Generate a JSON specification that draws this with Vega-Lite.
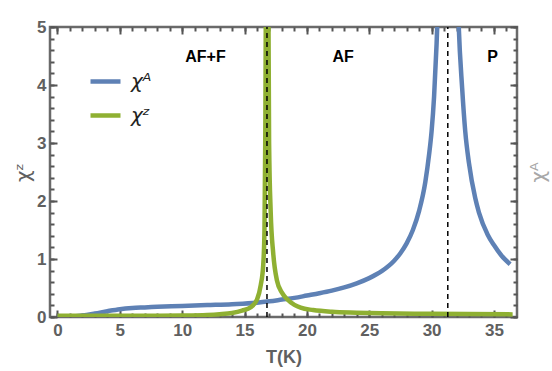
{
  "$schema": "https://vega.github.io/schema/vega-lite/v6.json",
  "width": 467,
  "height": 290,
  "autosize": {"type": "none"},
  "padding": {"left": 50, "top": 27, "right": 35, "bottom": 54},
  "config": {
    "view": {"stroke": "#6a6a6a", "strokeWidth": 2.5},
    "axis": {
      "grid": false,
      "domain": false,
      "tickColor": "#555555",
      "tickWidth": 2,
      "labelFont": "Liberation Sans",
      "labelFontWeight": "bold",
      "labelFontSize": 17,
      "labelColor": "#606060",
      "titleFont": "Liberation Sans",
      "titleColor": "#606060"
    }
  },
  "datasets": {
    "blue": [
      {"series": "χᴬ", "T": 0, "v": 0.005},
      {"series": "χᴬ", "T": 1, "v": 0.008},
      {"series": "χᴬ", "T": 2, "v": 0.025},
      {"series": "χᴬ", "T": 3, "v": 0.06},
      {"series": "χᴬ", "T": 4, "v": 0.1},
      {"series": "χᴬ", "T": 5, "v": 0.135},
      {"series": "χᴬ", "T": 6, "v": 0.155},
      {"series": "χᴬ", "T": 7, "v": 0.165},
      {"series": "χᴬ", "T": 8, "v": 0.175},
      {"series": "χᴬ", "T": 10, "v": 0.19},
      {"series": "χᴬ", "T": 12, "v": 0.205},
      {"series": "χᴬ", "T": 14, "v": 0.22},
      {"series": "χᴬ", "T": 16, "v": 0.245},
      {"series": "χᴬ", "T": 17, "v": 0.27},
      {"series": "χᴬ", "T": 18, "v": 0.3},
      {"series": "χᴬ", "T": 19, "v": 0.33},
      {"series": "χᴬ", "T": 20, "v": 0.37},
      {"series": "χᴬ", "T": 21, "v": 0.41},
      {"series": "χᴬ", "T": 22, "v": 0.455},
      {"series": "χᴬ", "T": 23, "v": 0.51},
      {"series": "χᴬ", "T": 24, "v": 0.58},
      {"series": "χᴬ", "T": 25, "v": 0.67},
      {"series": "χᴬ", "T": 26, "v": 0.79},
      {"series": "χᴬ", "T": 27, "v": 0.97},
      {"series": "χᴬ", "T": 27.5, "v": 1.1},
      {"series": "χᴬ", "T": 28, "v": 1.27},
      {"series": "χᴬ", "T": 28.5, "v": 1.5},
      {"series": "χᴬ", "T": 29, "v": 1.83},
      {"series": "χᴬ", "T": 29.5, "v": 2.33},
      {"series": "χᴬ", "T": 29.8, "v": 2.8},
      {"series": "χᴬ", "T": 30.0, "v": 3.2},
      {"series": "χᴬ", "T": 30.2, "v": 3.8},
      {"series": "χᴬ", "T": 30.4, "v": 4.7},
      {"series": "χᴬ", "T": 30.55, "v": 5.6},
      {"series": "χᴬ", "T": 30.8, "v": 8},
      {"series": "χᴬ", "T": 31.0, "v": 13},
      {"series": "χᴬ", "T": 31.25, "v": 40},
      {"series": "χᴬ", "T": 31.55, "v": 15},
      {"series": "χᴬ", "T": 31.8, "v": 9},
      {"series": "χᴬ", "T": 32.0, "v": 6.3},
      {"series": "χᴬ", "T": 32.18, "v": 5.0},
      {"series": "χᴬ", "T": 32.45, "v": 3.95},
      {"series": "χᴬ", "T": 32.7, "v": 3.2},
      {"series": "χᴬ", "T": 33.0, "v": 2.65},
      {"series": "χᴬ", "T": 33.5, "v": 2.05},
      {"series": "χᴬ", "T": 33.8, "v": 1.8},
      {"series": "χᴬ", "T": 34.5, "v": 1.42},
      {"series": "χᴬ", "T": 35.0, "v": 1.24},
      {"series": "χᴬ", "T": 35.6, "v": 1.06},
      {"series": "χᴬ", "T": 36.3, "v": 0.91}
    ],
    "green": [
      {"series": "χᶻ", "T": 0, "v": 0.02},
      {"series": "χᶻ", "T": 4, "v": 0.02},
      {"series": "χᶻ", "T": 8, "v": 0.022},
      {"series": "χᶻ", "T": 10, "v": 0.025},
      {"series": "χᶻ", "T": 12, "v": 0.035},
      {"series": "χᶻ", "T": 13, "v": 0.048},
      {"series": "χᶻ", "T": 14, "v": 0.07},
      {"series": "χᶻ", "T": 14.8, "v": 0.11},
      {"series": "χᶻ", "T": 15.5, "v": 0.17},
      {"series": "χᶻ", "T": 16.0, "v": 0.3},
      {"series": "χᶻ", "T": 16.3, "v": 0.55},
      {"series": "χᶻ", "T": 16.5, "v": 0.9},
      {"series": "χᶻ", "T": 16.6, "v": 1.5},
      {"series": "χᶻ", "T": 16.66, "v": 3},
      {"series": "χᶻ", "T": 16.72, "v": 6},
      {"series": "χᶻ", "T": 16.8, "v": 60},
      {"series": "χᶻ", "T": 16.9, "v": 6},
      {"series": "χᶻ", "T": 16.97, "v": 3},
      {"series": "χᶻ", "T": 17.1, "v": 1.8},
      {"series": "χᶻ", "T": 17.3, "v": 1.1},
      {"series": "χᶻ", "T": 17.6, "v": 0.63},
      {"series": "χᶻ", "T": 18.0, "v": 0.42},
      {"series": "χᶻ", "T": 18.4, "v": 0.31},
      {"series": "χᶻ", "T": 19.0, "v": 0.21},
      {"series": "χᶻ", "T": 19.5, "v": 0.16},
      {"series": "χᶻ", "T": 20.5, "v": 0.12},
      {"series": "χᶻ", "T": 22, "v": 0.09},
      {"series": "χᶻ", "T": 24, "v": 0.075},
      {"series": "χᶻ", "T": 26, "v": 0.065},
      {"series": "χᶻ", "T": 30, "v": 0.055},
      {"series": "χᶻ", "T": 36.5, "v": 0.045}
    ],
    "transitions": [{"T": 16.8}, {"T": 31.3}],
    "phases": [
      {"T": 11.87, "v": 4.48, "label": "AF+F"},
      {"T": 22.9, "v": 4.48, "label": "AF"},
      {"T": 34.9, "v": 4.48, "label": "P"}
    ]
  },
  "layer": [
    {
      "data": {"name": "blue"},
      "mark": {"type": "line", "strokeWidth": 4.5, "clip": true, "interpolate": "monotone"},
      "encoding": {
        "x": {"field": "T", "type": "quantitative",
              "scale": {"domain": [-0.6, 36.85], "nice": false, "zero": false},
              "axis": {"orient": "bottom", "values": [0, 5, 10, 15, 20, 25, 30, 35], "offset": -7, "tickSize": 7, "labelPadding": 5,
                       "title": "T(K)", "titleFontSize": 18, "titleFontWeight": "bold", "titlePadding": 10}},
        "y": {"field": "v", "type": "quantitative",
              "scale": {"domain": [0, 5], "nice": false, "zero": false},
              "axis": {"orient": "left", "values": [0, 1, 2, 3, 4, 5], "offset": -7, "tickSize": 7, "labelPadding": 4,
                       "title": "χᶻ", "titleFont": "DejaVu Sans", "titleFontSize": 20, "titleFontWeight": "normal", "titlePadding": 3}},
        "color": {"field": "series", "type": "nominal",
                  "scale": {"domain": ["χᴬ", "χᶻ"], "range": ["#5E81B5", "#8FB032"]},
                  "legend": {"orient": "none", "legendX": 38, "legendY": 37, "title": null, "padding": 0,
                             "symbolType": "stroke", "symbolSize": 900, "symbolStrokeWidth": 4.5,
                             "labelFont": "DejaVu Sans", "labelFontStyle": "italic", "labelFontSize": 20,
                             "labelColor": "#222222", "rowPadding": 6, "labelOffset": 8}}
      }
    },
    {
      "data": {"name": "green"},
      "mark": {"type": "line", "strokeWidth": 4.5, "clip": true, "interpolate": "monotone"},
      "encoding": {
        "x": {"field": "T", "type": "quantitative",
              "scale": {"domain": [-0.6, 36.85], "nice": false, "zero": false},
              "axis": {"orient": "top", "values": [0, 5, 10, 15, 20, 25, 30, 35], "offset": -7, "tickSize": 7, "labels": false, "title": null}},
        "y": {"field": "v", "type": "quantitative",
              "scale": {"domain": [0, 5], "nice": false, "zero": false},
              "axis": {"orient": "right", "values": [0, 1, 2, 3, 4, 5], "offset": -7, "tickSize": 7, "labels": false,
                       "title": "χᴬ", "titleFont": "DejaVu Sans", "titleFontSize": 20, "titleFontWeight": "normal",
                       "titleColor": "#a8a8a8", "titleAngle": 270, "titlePadding": 30}},
        "color": {"field": "series", "type": "nominal",
                  "scale": {"domain": ["χᴬ", "χᶻ"], "range": ["#5E81B5", "#8FB032"]}}
      }
    },
    {
      "data": {"name": "transitions"},
      "mark": {"type": "rule", "color": "#000000", "strokeWidth": 1.5, "strokeDash": [5, 4]},
      "encoding": {
        "x": {"field": "T", "type": "quantitative",
              "scale": {"domain": [-0.6, 36.85], "nice": false, "zero": false},
              "axis": {"orient": "bottom", "values": [0,1,2,3,4,5,6,7,8,9,10,11,12,13,14,15,16,17,18,19,20,21,22,23,24,25,26,27,28,29,30,31,32,33,34,35,36],
                       "offset": -4, "tickSize": 4, "labels": false, "title": null}},
        "y": {"datum": 0, "type": "quantitative",
              "scale": {"domain": [0, 5], "nice": false, "zero": false},
              "axis": {"orient": "left", "values": [0,0.2,0.4,0.6,0.8,1,1.2,1.4,1.6,1.8,2,2.2,2.4,2.6,2.8,3,3.2,3.4,3.6,3.8,4,4.2,4.4,4.6,4.8,5],
                       "offset": -4, "tickSize": 4, "labels": false, "title": null}},
        "y2": {"datum": 5}
      }
    },
    {
      "data": {"name": "phases"},
      "mark": {"type": "text", "font": "Liberation Sans", "fontWeight": "bold", "fontSize": 16, "color": "#000000"},
      "encoding": {
        "x": {"field": "T", "type": "quantitative",
              "scale": {"domain": [-0.6, 36.85], "nice": false, "zero": false},
              "axis": {"orient": "top", "values": [0,1,2,3,4,5,6,7,8,9,10,11,12,13,14,15,16,17,18,19,20,21,22,23,24,25,26,27,28,29,30,31,32,33,34,35,36],
                       "offset": -4, "tickSize": 4, "labels": false, "title": null}},
        "y": {"field": "v", "type": "quantitative",
              "scale": {"domain": [0, 5], "nice": false, "zero": false},
              "axis": {"orient": "right", "values": [0,0.2,0.4,0.6,0.8,1,1.2,1.4,1.6,1.8,2,2.2,2.4,2.6,2.8,3,3.2,3.4,3.6,3.8,4,4.2,4.4,4.6,4.8,5],
                       "offset": -4, "tickSize": 4, "labels": false, "title": null}},
        "text": {"field": "label"}
      }
    }
  ],
  "resolve": {"axis": {"x": "independent", "y": "independent"}}
}
